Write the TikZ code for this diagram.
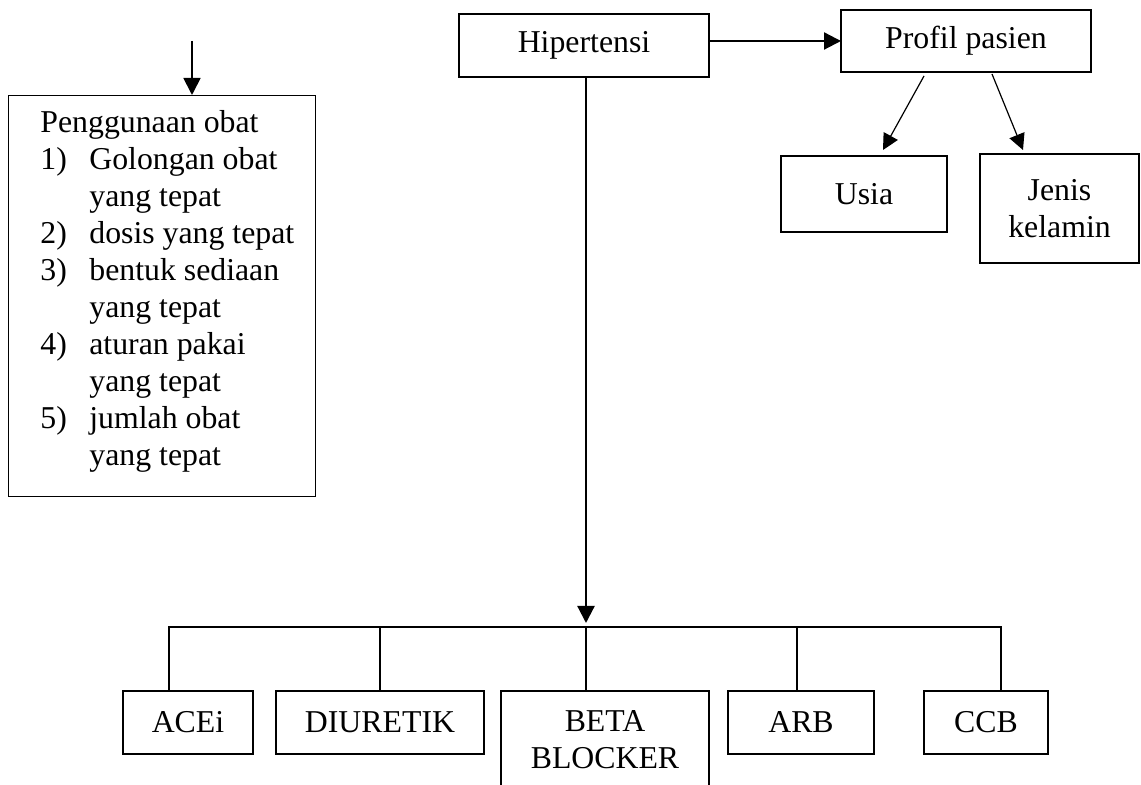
\documentclass[tikz,border=0pt]{standalone}
\usepackage{fontspec}
\setmainfont{Liberation Serif}
\usetikzlibrary{arrows.meta, calc}

\begin{document}
\begin{tikzpicture}[x=0.5pt, y=-0.5pt,
    font=\fontsize{15.9pt}{18.5pt}\selectfont,
    kotak/.style={draw, line width=1.25pt, inner sep=0pt, outer sep=0pt, align=center},
    panah/.style={-{Triangle[length=8.5pt, width=8.5pt]}, line width=1.1pt},
    panahtipis/.style={-{Triangle[length=8pt, width=8pt]}, line width=0.6pt},
    garis/.style={line width=1.1pt}]

    \useasboundingbox (0,0) rectangle (1141,785);

    \clip (0,0) rectangle (1141,785);


    \node[kotak, minimum width=125pt, minimum height=31.5pt] (hipertensi) at (584,45.5) {Hipertensi};

    \node[kotak, minimum width=125pt, minimum height=31pt] (profil) at (966,41) {Profil pasien};

    \node[kotak, minimum width=83pt, minimum height=38pt] (usia) at (864,194) {Usia};

    \node[kotak, minimum width=79.5pt, minimum height=54.5pt] (jenis) at (1059.5,208.5) {Jenis\\kelamin};


    \node[draw, line width=0.7pt, inner sep=0pt, anchor=north west,
        minimum width=153.5pt, minimum height=200.5pt] (obat) at (8,95) {};

    \node[inner sep=0pt, anchor=base west] (daftar) at (40,133) {%
        \begin{tabular}[t]{@{}p{24.5pt}@{}l@{}}
            \multicolumn{2}{@{}l@{}}{Penggunaan obat}\\
            1) & Golongan obat\\
               & yang tepat\\
            2) & dosis yang tepat\\
            3) & bentuk sediaan\\
               & yang tepat\\
            4) & aturan pakai\\
               & yang tepat\\
            5) & jumlah obat\\
               & yang tepat
        \end{tabular}};


    \node[kotak, minimum width=65pt, minimum height=31.5pt] (acei) at (188,722.5) {ACEi};

    \node[kotak, minimum width=104pt, minimum height=31.5pt] (diuretik) at (380,722.5) {DIURETIK};

    \node[kotak, minimum width=104pt, minimum height=49pt, anchor=north] (beta) at (605,691) {BETA\\BLOCKER};

    \node[kotak, minimum width=73pt, minimum height=31.5pt] (arb) at (801,722.5) {ARB};

    \node[kotak, minimum width=62pt, minimum height=31.5pt] (ccb) at (986,722.5) {CCB};


    \draw[panah] (hipertensi.east |- profil.west) -- (profil.west);

    \draw[panahtipis] ($(profil.south)+(-42,4)$) -- ($(usia.north)+(19,-6)$);

    \draw[panahtipis] ($(profil.south)+(26,2)$) -- ($(jenis.north)+(-36.5,-4)$);

    \coordinate (atas) at (192,41);

    \draw[panah, line width=0.9pt] (atas) -- (atas |- obat.north);


    \foreach \n/\x in {acei/169, diuretik/380, beta/586, arb/797, ccb/1001}
        \coordinate (c\n) at (\x,627);

    \draw[panah, shorten >=2pt] (hipertensi.south -| cbeta) -- (cbeta);

    \draw[garis] (cacei |- acei.north) -- (cacei) -- (cccb) -- (cccb |- ccb.north);

    \foreach \n in {diuretik, beta, arb}
        \draw[garis] (c\n) -- (c\n |- \n.north);

\end{tikzpicture}
\end{document}
